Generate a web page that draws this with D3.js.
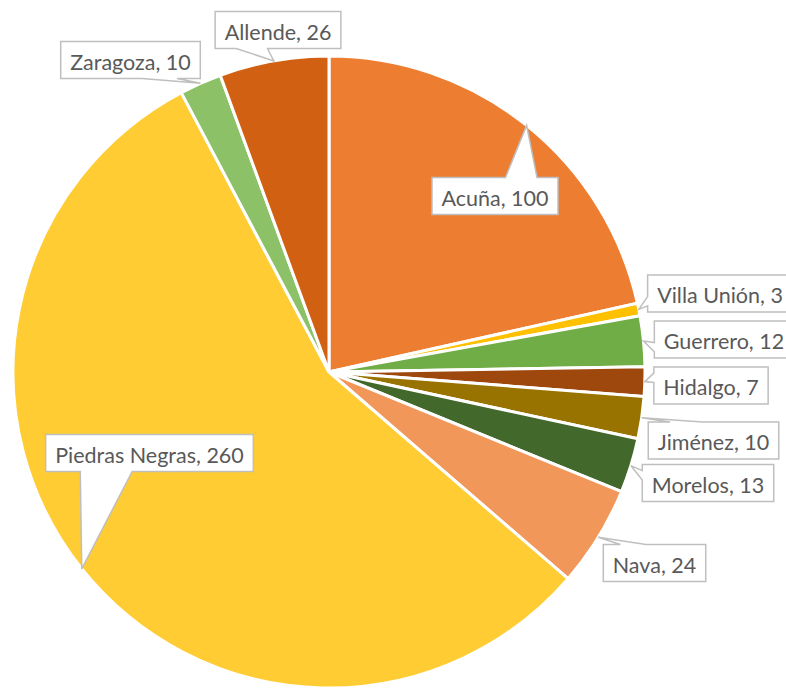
<!DOCTYPE html>
<html>
<head>
<meta charset="utf-8">
<script src="https://cdn.jsdelivr.net/npm/d3@7"></script>
<style>
  html, body { margin: 0; padding: 0; background: #ffffff; }
  svg { display: block; }
  .slice { stroke: #ffffff; stroke-width: 3; }
  .callout { fill: #ffffff; stroke: #bfbfbf; stroke-width: 1.5; }
  .labelText { font-family: Lato, "Open Sans", sans-serif; font-size: 21.5px; fill: #595959; }
</style>
</head>
<body>
<div id="chart"></div>
<script>
// municipalities (slice order, clockwise from 12 o'clock)
var municipios = ["Acuña", "Villa Unión", "Guerrero", "Hidalgo", "Jiménez",
                  "Morelos", "Nava", "Piedras Negras", "Zaragoza", "Allende"];
// values
var valores = [100, 3, 12, 7, 10, 13, 24, 260, 10, 26];
// slice colours
var colores = ["#ED7D31", "#FFC000", "#70AD47", "#9E480E", "#997300",
               "#43682B", "#F1975A", "#FFCC33", "#8CC168", "#D26012"];
// where each label box sits (box centre, px)
var posEtiquetas = [[495, 196], [720, 293.5], [724, 339.5], [711, 385.5], [713.5, 440.5],
                    [708, 483], [654.5, 563], [149.5, 453], [130.5, 60], [278, 30]];

function init() {
    var w = 786;
    var h = 688;
    var cx = 329;
    var cy = 372;
    var radius = 316;

    var data = municipios.map(function (m, i) {
        return { name: m, value: valores[i], color: colores[i], pos: posEtiquetas[i] };
    });

    var svg = d3.select("#chart")
        .append("svg")
        .attr("width", w)
        .attr("height", h);

    var pie = d3.pie()
        .sort(null)
        .value(function (d) { return d.value; });

    var arc = d3.arc()
        .innerRadius(0)
        .outerRadius(radius);

    var arcs = pie(data);

    var g = svg.append("g")
        .attr("transform", "translate(" + cx + "," + cy + ")");

    g.selectAll("path.slice")
        .data(arcs)
        .enter()
        .append("path")
        .attr("class", "slice")
        .attr("fill", function (d) { return d.data.color; })
        .attr("d", arc);

    //wedge callout like the office one: base sits at 2/12..5/12 or 7/12..10/12 of the edge
    function callout(x, y, bw, bh, tx, ty) {
        var dxPos = tx - (x + bw / 2);
        var dyPos = ty - (y + bh / 2);
        var pts = [];
        var vertical = Math.abs(dyPos) * bw > Math.abs(dxPos) * bh;
        var xa = x + bw * (dxPos > 0 ? 7 : 2) / 12, xb = x + bw * (dxPos > 0 ? 10 : 5) / 12;
        var ya = y + bh * (dyPos > 0 ? 7 : 2) / 12, yb = y + bh * (dyPos > 0 ? 10 : 5) / 12;
        var inside = tx >= x && tx <= x + bw && ty >= y && ty <= y + bh;

        pts.push([x, y]);
        if (!inside && vertical && dyPos < 0) pts.push([xa, y], [tx, ty], [xb, y]);
        pts.push([x + bw, y]);
        if (!inside && !vertical && dxPos > 0) pts.push([x + bw, ya], [tx, ty], [x + bw, yb]);
        pts.push([x + bw, y + bh]);
        if (!inside && vertical && dyPos > 0) pts.push([xb, y + bh], [tx, ty], [xa, y + bh]);
        pts.push([x, y + bh]);
        if (!inside && !vertical && dxPos < 0) pts.push([x, yb], [tx, ty], [x, ya]);
        return "M" + pts.map(function (p) { return p[0] + "," + p[1]; }).join("L") + "Z";
    }

    var labels = svg.selectAll("g.label")
        .data(arcs)
        .enter()
        .append("g")
        .attr("class", "label");

    //text first so we can measure it
    labels.append("text")
        .attr("class", "labelText")
        .attr("text-anchor", "middle")
        .attr("x", function (d) { return d.data.pos[0]; })
        .attr("y", function (d) { return d.data.pos[1] + 9.5; })
        .text(function (d) { return d.data.name + ", " + d.data.value; });

    var pad = 9.5;
    var bh = 37;
    labels.insert("path", "text")
        .attr("class", "callout")
        .attr("d", function (d) {
            var tw = this.parentNode.querySelector("text").getComputedTextLength();
            var bw = tw + 2 * pad;
            var mid = (d.startAngle + d.endAngle) / 2;
            //tip on the outer edge of the slice
            var tx = cx + radius * Math.sin(mid);
            var ty = cy - radius * Math.cos(mid);
            return callout(d.data.pos[0] - bw / 2, d.data.pos[1] - bh / 2, bw, bh, tx, ty);
        });
}

window.onload = init;
</script>
</body>
</html>
